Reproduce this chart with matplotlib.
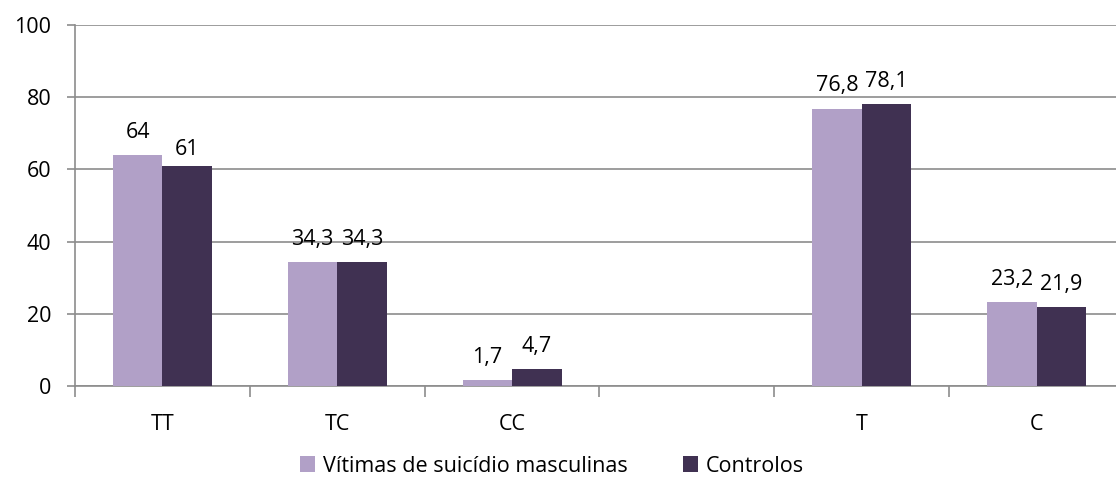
import matplotlib
matplotlib.use("Agg")
import matplotlib.pyplot as plt
import numpy as np

categories = ["TT", "TC", "CC", "", "T", "C"]
vitimas = [64, 34.3, 1.7, None, 76.8, 23.2]
controlos = [61, 34.3, 4.7, None, 78.1, 21.9]
series_names = ["Vítimas de suicídio masculinas", "Controlos"]
colors = ["#B1A0C7", "#403152"]

plt.rcParams['font.family'] = ['Open Sans', 'DejaVu Sans']
FS = 15.5

W, H = 1116, 479
fig = plt.figure(figsize=(W / 100, H / 100), dpi=100)
left, right, top, bottom = 75, 1124, 25, 386
ax = fig.add_axes([left / W, 1 - bottom / H, (right - left) / W, (bottom - top) / H])

x = np.arange(len(categories))
bw = 0.283

def fmt(v):
    s = f"{v:g}"
    return s.replace(".", ",")

for i, (vals, c, name) in enumerate(zip([vitimas, controlos], colors, series_names)):
    xs = [xi for xi, v in zip(x, vals) if v is not None]
    vs = [v for v in vals if v is not None]
    offs = (i - 0.5) * bw
    ax.bar(np.array(xs) + offs, vs, width=bw, color=c, label=name, zorder=3)
    for j, (xx, v) in enumerate(zip(xs, vs)):
        gap = 7.5 if (i == 1 and j == 0) else 12.5
        ax.annotate(fmt(v), (xx + offs, v), xytext=(0, gap), textcoords="offset points",
                    ha="center", va="baseline", fontsize=FS, color="black")

ax.set_xlim(-0.5, len(categories) - 0.5)
ax.set_ylim(0, 100)
ax.set_yticks([0, 20, 40, 60, 80, 100])
ax.yaxis.grid(True, color="#8C8C8C", linewidth=1.2, zorder=0)
ax.set_axisbelow(True)
for s in ["top", "right"]:
    ax.spines[s].set_visible(False)
for s in ["left", "bottom"]:
    ax.spines[s].set_color("#8C8C8C")
    ax.spines[s].set_linewidth(1.2)

ax.set_xticks(x)
ax.set_xticklabels(categories)
ax.tick_params(axis="x", length=0, pad=20, labelsize=FS)
ax.set_xticks(np.arange(-0.5, len(categories) + 0.5, 1), minor=True)
ax.tick_params(axis="x", which="minor", length=8, width=1.2, color="#8C8C8C")
ax.tick_params(axis="y", length=6, width=1.2, color="#8C8C8C", labelsize=FS, pad=11)

fig.legend(loc="center", bbox_to_anchor=(552 / W, 1 - 466 / H), ncol=2, frameon=False,
           fontsize=FS, handlelength=0.7, handleheight=0.7, handletextpad=0.35, columnspacing=2.6,
           borderpad=0, borderaxespad=0)

fig.savefig("out.png", dpi=100)
